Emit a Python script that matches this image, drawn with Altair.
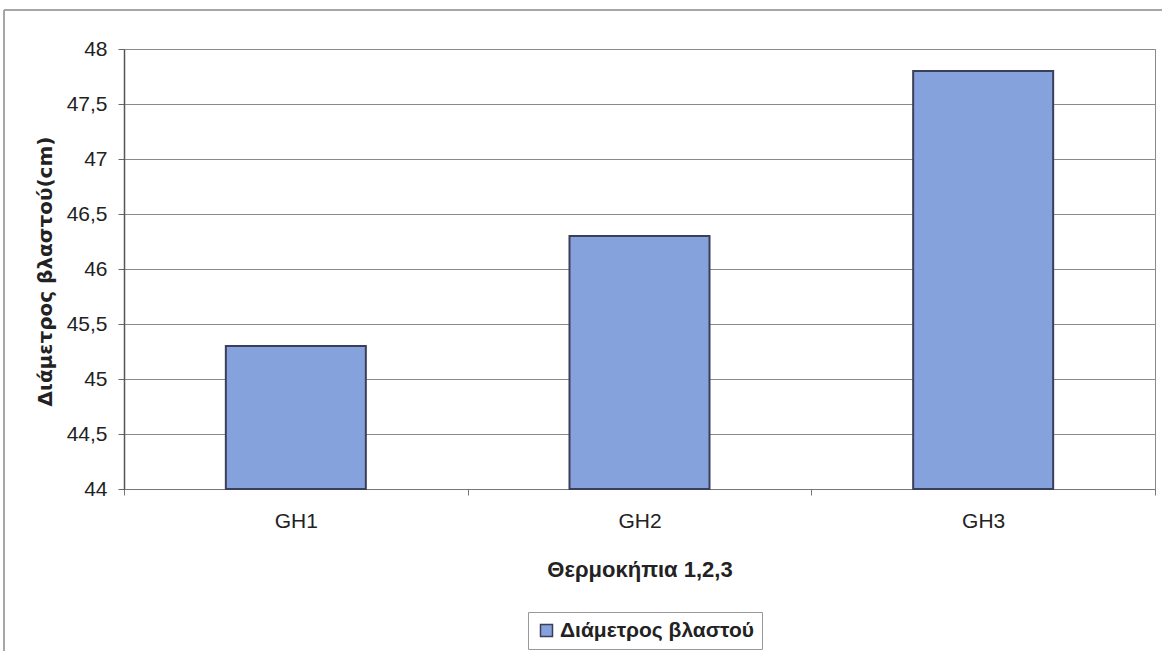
import altair as alt
import pandas as pd

# Stem diameter per greenhouse
greenhouses = ["GH1", "GH2", "GH3"]
diameters = [45.3, 46.3, 47.8]
series_name = "Διάμετρος βλαστού"

y_ticks = [44, 44.5, 45, 45.5, 46, 46.5, 47, 47.5, 48]

df = pd.DataFrame({
    "greenhouse": greenhouses,
    "diameter": diameters,
    "series": [series_name] * len(greenhouses),
})

FONT = "Liberation Sans"
W, H = 1031, 440

bars = alt.Chart(df).mark_bar(
    stroke="#3b3f5a", strokeWidth=2, size=140
).encode(
    x=alt.X(
        "greenhouse:N",
        sort=greenhouses,
        scale=alt.Scale(paddingInner=0, paddingOuter=0),
        axis=alt.Axis(
            title="Θερμοκήπια 1,2,3",
            labelAngle=0,
            labelFont=FONT, labelFontSize=21, labelColor="#222",
            labelPadding=15,
            tickBand="extent", tickSize=6, tickColor="#777",
            domainColor="#777",
            titleFont=FONT, titleFontSize=22, titleFontWeight="bold",
            titleColor="#222", titleY=80, titleBaseline="middle",
        ),
    ),
    y=alt.Y(
        "diameter:Q",
        scale=alt.Scale(domain=[44, 48], zero=False, nice=False),
        axis=alt.Axis(
            values=y_ticks,
            labelExpr="replace(toString(datum.value), '.', ',')",
            labelFont=FONT, labelFontSize=21, labelColor="#222",
            labelPadding=11,
            tickSize=6, tickColor="#666",
            domainColor="#555", domainWidth=1.5,
            grid=True, gridColor="#8a8a8a", gridWidth=1,
            title="Διάμετρος βλαστού(cm)",
            titleFont="DejaVu Sans", titleFontSize=20, titleFontWeight="bold",
            titleColor="#222", titleAngle=270, titleX=-79, titleY=222,
            titleAlign="center", titleBaseline="middle",
        ),
    ),
    y2=alt.datum(44),
    color=alt.Color(
        "series:N",
        scale=alt.Scale(range=["#86a2dc"]),
        legend=alt.Legend(
            title=None, orient="none", legendX=404, legendY=563,
            symbolType="square", symbolSize=144,
            symbolStrokeColor="#3b3f5a", symbolStrokeWidth=1.5,
            labelFont=FONT, labelFontSize=21, labelFontWeight="bold",
            labelColor="#222", labelOffset=3, labelLimit=0,
            strokeColor="#999", padding=8, fillColor="white",
        ),
    ),
)

# Outer chart frame
frame = alt.Chart(df).mark_rect(
    fill=None, stroke="#9a9a9a", strokeWidth=1
).encode(
    x=alt.value(-120), x2=alt.value(W + 40),
    y=alt.value(-39), y2=alt.value(H + 200),
)

chart = alt.layer(frame, bars).properties(
    width=W, height=H,
    autosize=alt.AutoSizeParams(type="none"),
    padding={"left": 124, "top": 49, "right": 7, "bottom": 162},
    background="white",
).configure_view(stroke="#8a8a8a", strokeWidth=1)

chart.save("out.html", embed_options={"renderer": "svg", "actions": False})
